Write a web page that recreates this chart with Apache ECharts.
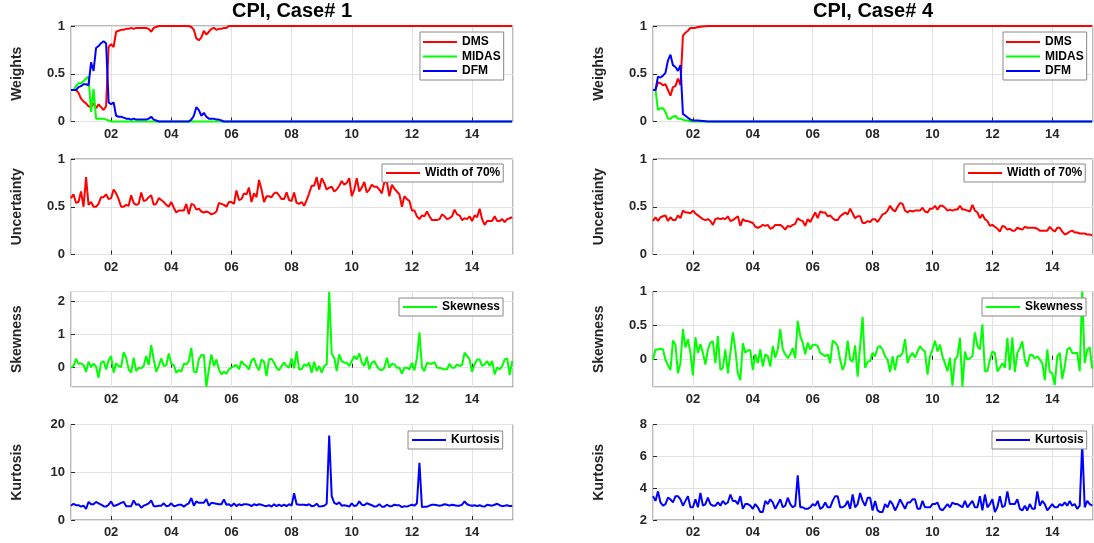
<!DOCTYPE html>
<html lang="en">
<head>
  <meta charset="UTF-8">
  <title>CPI, Case# 1 / Case# 4</title>
  <style>
    html, body { margin: 0; padding: 0; background: #fff; }
    #chart { width: 1094px; height: 543px; }
  </style>
</head>
<body>
  <div id="chart"></div>
  <script src="https://cdn.jsdelivr.net/npm/echarts@6/dist/echarts.min.js"></script>
  <script>
    // monthly data, first month Sep 2000 (index 0), last May 2015 (index 176)
    var startYear = 2000, startMonth = 8;

    // weights: [monthIndex, value]
    var dmsL = [[0,0.33],[1,0.33],[2,0.33],[3,0.30],[4,0.24],[5,0.21],[6,0.19],[7,0.16],[8,0.15],[9,0.19],[10,0.14],[11,0.18],[12,0.15],[13,0.12],[14,0.16],[15,0.78],[16,0.81],[17,0.78],[18,0.94],[19,0.95],[20,0.96],[21,0.96],[22,0.97],[23,0.97],[24,0.98],[25,0.97],[26,0.98],[27,0.98],[28,0.98],[29,0.98],[30,0.98],[31,0.97],[32,0.94],[33,0.98],[34,0.99],[35,1],[47,1],[48,0.99],[49,0.96],[50,0.87],[51,0.85],[52,0.88],[53,0.95],[54,0.91],[55,0.94],[56,0.97],[57,0.98],[58,0.96],[59,0.97],[60,0.97],[61,0.98],[62,0.98],[63,1],[176,1]];
    var midasL = [[0,0.33],[1,0.33],[2,0.37],[3,0.40],[4,0.40],[5,0.42],[6,0.45],[7,0.47],[8,0.10],[9,0.34],[10,0.03],[11,0.03],[12,0.03],[13,0.03],[14,0.02],[15,0.01],[16,0],[176,0]];
    var dfmL = [[0,0.33],[1,0.33],[2,0.33],[3,0.36],[4,0.37],[5,0.39],[6,0.39],[7,0.38],[8,0.62],[9,0.53],[10,0.77],[11,0.79],[12,0.82],[13,0.84],[14,0.82],[15,0.20],[16,0.18],[17,0.20],[18,0.06],[19,0.05],[20,0.05],[21,0.04],[22,0.03],[23,0.03],[24,0.02],[25,0.03],[26,0.02],[27,0.02],[28,0.02],[29,0.02],[30,0.02],[31,0.03],[32,0.05],[33,0.02],[34,0.01],[35,0],[47,0],[48,0.02],[49,0.06],[50,0.15],[51,0.12],[52,0.06],[53,0.09],[54,0.05],[55,0.03],[56,0.03],[57,0.03],[58,0.02],[59,0.02],[60,0.01],[61,0],[176,0]];

    var dmsR = [[0,0.33],[1,0.33],[2,0.41],[3,0.40],[4,0.38],[5,0.39],[6,0.33],[7,0.27],[8,0.36],[9,0.37],[10,0.45],[11,0.38],[12,0.90],[13,0.93],[14,0.95],[15,0.98],[16,0.98],[17,0.98],[18,0.99],[22,1],[176,1]];
    var midasR = [[0,0.33],[1,0.33],[2,0.12],[3,0.14],[4,0.14],[5,0.10],[6,0.03],[7,0.03],[8,0.05],[9,0.06],[10,0.03],[11,0.03],[12,0.02],[13,0.01],[14,0.01],[15,0],[176,0]];
    var dfmR = [[0,0.33],[1,0.33],[2,0.47],[3,0.46],[4,0.48],[5,0.51],[6,0.64],[7,0.70],[8,0.59],[9,0.57],[10,0.53],[11,0.59],[12,0.08],[13,0.06],[14,0.04],[15,0.02],[16,0.01],[17,0.01],[18,0.01],[22,0],[176,0]];

    // width of 70% interval, skewness, kurtosis (one value per month)
    var uncL = [
      0.59,0.63,0.54,0.55,0.66,0.50,0.81,0.52,0.55,0.50,0.50,0.53,
      0.60,0.60,0.63,0.58,0.59,0.68,0.64,0.58,0.50,0.50,0.52,0.51,
      0.62,0.54,0.52,0.53,0.65,0.56,0.57,0.60,0.62,0.52,0.53,0.59,
      0.57,0.55,0.52,0.50,0.55,0.49,0.44,0.46,0.46,0.46,0.53,0.42,
      0.53,0.52,0.47,0.48,0.45,0.44,0.45,0.44,0.42,0.43,0.45,0.54,
      0.53,0.52,0.50,0.55,0.55,0.53,0.67,0.57,0.58,0.64,0.63,0.70,
      0.55,0.64,0.60,0.78,0.68,0.55,0.61,0.61,0.60,0.64,0.65,0.62,
      0.58,0.58,0.65,0.57,0.56,0.65,0.54,0.53,0.55,0.51,0.57,0.64,
      0.72,0.72,0.81,0.68,0.80,0.75,0.68,0.70,0.71,0.66,0.68,0.72,
      0.77,0.73,0.75,0.80,0.61,0.68,0.80,0.66,0.70,0.76,0.65,0.68,
      0.73,0.71,0.71,0.68,0.64,0.76,0.76,0.61,0.73,0.69,0.66,0.63,
      0.50,0.61,0.58,0.56,0.46,0.46,0.40,0.37,0.41,0.40,0.45,0.40,
      0.36,0.36,0.36,0.37,0.42,0.40,0.37,0.38,0.40,0.47,0.42,0.41,
      0.36,0.38,0.37,0.40,0.35,0.41,0.39,0.48,0.37,0.31,0.35,0.35,
      0.35,0.40,0.35,0.35,0.37,0.34,0.37,0.38,0.39
    ];
    var skewL = [
      0.00,0.05,0.27,0.12,0.13,0.08,-0.12,0.18,0.02,0.12,0.03,-0.30,
      0.15,0.20,-0.05,0.22,0.35,-0.15,0.13,0.05,0.02,0.47,0.30,-0.05,
      -0.15,0.30,-0.10,0.00,-0.02,0.05,0.35,0.08,0.68,0.25,-0.12,0.05,
      0.28,0.05,0.07,0.43,0.12,0.08,-0.15,-0.07,-0.12,0.12,0.10,0.20,
      0.60,-0.12,-0.15,0.25,0.38,0.38,-0.58,-0.05,0.40,0.05,0.25,-0.05,
      -0.20,-0.12,-0.18,-0.05,0.00,0.05,0.08,-0.05,0.20,0.10,0.05,-0.05,
      0.22,0.28,0.05,-0.08,0.25,0.18,-0.25,0.25,0.27,0.15,0.00,-0.08,
      0.05,0.15,0.05,0.00,0.28,-0.02,0.50,-0.05,-0.05,0.10,0.05,0.15,
      -0.15,0.18,-0.10,0.05,-0.15,0.05,0.10,2.28,0.42,0.30,-0.10,0.40,
      0.20,0.15,0.15,0.05,0.20,0.35,0.25,0.43,0.15,0.05,0.33,-0.05,
      0.15,0.20,0.05,-0.05,-0.08,0.00,0.30,0.00,0.12,0.10,0.00,0.00,
      -0.18,0.00,0.00,-0.05,0.15,-0.08,0.30,1.06,0.00,-0.10,0.15,0.12,
      0.12,0.17,0.00,0.00,-0.03,-0.05,-0.05,0.12,0.00,0.00,0.10,0.05,
      0.08,0.45,0.35,0.25,-0.12,0.10,0.25,0.25,0.05,0.10,0.20,0.05,
      0.20,-0.20,0.00,-0.05,0.05,0.25,0.28,-0.22,0.20
    ];
    var kurtL = [
      3.0,3.4,3.1,3.1,2.8,3.0,2.3,3.8,3.3,3.3,3.8,3.5,
      3.2,2.9,2.8,3.2,3.9,2.9,3.1,3.3,3.6,3.8,2.9,2.9,
      2.9,4.1,3.2,3.3,2.6,3.0,3.2,3.5,4.1,2.9,2.9,3.0,
      3.0,3.5,2.9,3.0,3.5,2.9,3.0,3.2,3.2,2.8,3.2,3.5,
      4.6,3.0,3.9,3.6,3.6,3.6,4.4,3.0,3.6,3.5,3.4,3.3,
      3.3,4.3,3.2,3.3,2.9,3.5,2.9,3.3,3.1,3.3,3.3,3.2,
      2.9,3.3,3.1,3.3,3.2,3.0,2.9,3.1,2.8,3.3,2.9,3.2,
      2.9,3.2,2.9,3.3,3.0,5.6,3.3,3.2,3.2,3.2,3.1,3.3,
      2.9,3.0,3.4,2.8,2.9,3.0,3.4,17.7,5.0,3.6,3.3,3.7,
      3.0,3.1,3.0,2.8,3.5,2.9,3.1,3.9,3.2,3.1,3.5,3.3,
      3.1,2.8,2.9,3.3,2.8,2.8,3.2,2.9,2.9,3.2,3.1,3.1,
      2.7,2.9,2.8,3.0,3.2,3.0,3.5,12.0,2.7,2.8,2.8,3.0,
      3.2,3.2,3.1,3.0,3.1,3.3,3.2,3.0,3.2,3.1,3.0,3.0,
      3.2,3.9,3.3,3.1,3.0,3.1,2.9,3.1,2.9,2.8,3.2,3.1,
      3.0,3.2,3.4,3.1,2.9,3.0,3.1,2.9,3.0
    ];
    var uncR = [
      0.35,0.39,0.35,0.39,0.40,0.41,0.35,0.39,0.36,0.36,0.41,0.38,
      0.46,0.44,0.44,0.43,0.46,0.43,0.41,0.39,0.37,0.36,0.37,0.35,
      0.31,0.37,0.38,0.37,0.38,0.37,0.40,0.35,0.36,0.38,0.40,0.30,
      0.37,0.35,0.35,0.34,0.33,0.29,0.28,0.29,0.31,0.30,0.31,0.27,
      0.28,0.31,0.31,0.31,0.29,0.26,0.30,0.29,0.31,0.32,0.38,0.36,
      0.35,0.30,0.37,0.34,0.39,0.44,0.38,0.45,0.44,0.44,0.40,0.41,
      0.38,0.36,0.36,0.40,0.42,0.44,0.42,0.48,0.43,0.38,0.40,0.40,
      0.33,0.33,0.35,0.34,0.37,0.37,0.34,0.38,0.42,0.43,0.46,0.51,
      0.47,0.45,0.50,0.54,0.53,0.46,0.44,0.46,0.45,0.46,0.46,0.46,
      0.49,0.45,0.44,0.48,0.48,0.51,0.47,0.51,0.51,0.49,0.46,0.47,
      0.46,0.47,0.47,0.51,0.47,0.47,0.46,0.45,0.52,0.46,0.44,0.38,
      0.42,0.37,0.35,0.30,0.31,0.29,0.27,0.24,0.30,0.29,0.26,0.27,
      0.25,0.25,0.28,0.27,0.26,0.29,0.28,0.28,0.28,0.28,0.27,0.25,
      0.25,0.25,0.25,0.29,0.26,0.24,0.28,0.28,0.24,0.21,0.22,0.24,
      0.25,0.23,0.23,0.22,0.22,0.22,0.21,0.21,0.20
    ];
    var skewR = [
      0.00,0.15,0.15,0.16,0.15,0.00,-0.08,-0.15,0.28,0.22,-0.20,-0.05,
      0.45,0.18,0.30,0.10,-0.23,0.33,0.10,0.23,0.10,-0.07,0.15,0.25,
      0.27,-0.05,0.35,-0.15,-0.12,0.15,-0.20,0.10,0.40,0.15,-0.20,-0.30,
      0.24,0.10,0.14,0.14,-0.15,0.08,-0.05,0.15,-0.10,0.08,0.05,-0.10,
      0.20,0.03,0.15,0.45,0.15,0.08,0.02,0.08,0.17,0.02,0.57,0.35,
      0.25,0.08,0.25,0.15,0.22,0.22,0.20,0.10,0.08,0.05,0.08,-0.05,
      0.28,0.25,0.20,0.00,-0.15,-0.05,0.28,0.00,-0.03,0.21,-0.25,0.20,
      0.63,-0.12,-0.03,-0.02,0.10,0.05,0.18,0.20,0.15,0.05,0.00,-0.18,
      0.05,-0.15,0.05,0.05,0.10,0.30,-0.05,0.05,0.10,0.03,0.12,0.20,
      0.15,0.12,-0.22,0.05,0.15,0.28,0.12,0.22,0.05,-0.05,-0.17,0.03,
      -0.38,0.00,0.05,0.32,-0.40,0.12,0.00,0.02,0.05,0.40,0.20,0.15,
      0.52,-0.17,-0.17,0.00,0.12,0.10,-0.17,-0.12,-0.05,-0.12,0.32,-0.15,
      0.33,-0.18,0.10,0.17,0.27,0.00,-0.10,0.07,0.07,0.02,0.05,0.00,
      -0.05,-0.30,0.15,-0.18,-0.20,-0.37,0.05,0.10,-0.28,-0.10,0.15,0.18,
      0.10,0.10,0.10,-0.17,1.00,-0.05,0.15,0.18,-0.13
    ];
    var kurtR = [
      3.5,3.2,3.8,3.1,2.9,3.0,3.4,3.3,3.1,3.5,3.5,3.3,
      2.9,3.2,3.5,2.8,2.8,3.3,2.8,3.7,2.9,3.0,3.4,3.0,
      2.9,2.9,3.1,2.9,3.2,3.0,3.1,3.6,3.2,3.2,3.0,3.5,
      2.7,3.0,3.0,2.9,2.7,3.0,2.8,2.5,2.5,3.2,3.0,3.3,
      3.1,2.7,3.0,3.3,2.8,2.9,3.4,3.0,2.8,2.9,4.8,2.8,
      2.8,2.7,2.7,2.8,3.0,2.9,3.2,2.7,2.8,3.1,2.8,2.8,
      3.2,3.5,3.5,2.8,2.8,2.9,3.2,2.7,3.6,2.8,3.0,3.7,
      3.2,2.9,3.4,3.4,2.6,3.2,2.6,2.5,2.5,3.0,2.8,3.2,
      3.0,2.6,2.9,3.3,3.0,2.7,3.1,3.1,3.3,3.3,2.7,2.7,
      3.2,2.8,2.8,2.8,3.0,3.0,3.1,2.7,2.6,2.8,3.0,2.8,
      3.1,3.0,3.0,2.9,2.8,3.2,2.8,3.0,3.2,2.8,2.8,3.5,
      2.6,3.6,2.8,3.0,3.3,2.5,2.8,3.5,2.8,2.9,3.8,3.0,
      3.0,3.0,3.3,2.7,2.6,2.9,2.6,3.0,2.7,2.7,3.8,2.9,
      3.2,3.0,2.6,2.8,3.0,2.8,2.8,3.0,2.9,3.1,2.9,3.2,
      2.9,3.0,2.7,2.9,6.8,2.8,3.2,3.0,2.9
    ];

    var titles = ['CPI, Case# 1', 'CPI, Case# 4'];
    var rowNames = ['Weights', 'Uncertainty', 'Skewness', 'Kurtosis'];

    var RED = '#ff0000', GREEN = '#00ff00', BLUE = '#0000ff';
    var FONT = '"Liberation Sans", Arial, sans-serif';
    var INK = '#262626';

    var colLeft = [71, 653];
    var colWidth = [442, 440];
    var rowTop = [26, 159, 291.5, 424.5];
    var rowHeight = 95.5;

    function toYear(m) {
      return startYear + (startMonth + m) / 12;
    }

    // y axis settings per [row][col]
    var yRanges = [
      [{ min: 0, max: 1, step: 0.5 }, { min: 0, max: 1, step: 0.5 }],
      [{ min: 0, max: 1, step: 0.5 }, { min: 0, max: 1, step: 0.5 }],
      [{ min: -0.58, max: 2.29, step: 1 }, { min: -0.4, max: 1, step: 0.5 }],
      [{ min: 0, max: 20, step: 10 }, { min: 2, max: 8, step: 2 }]
    ];

    var grids = [], xAxes = [], yAxes = [], series = [], legends = [], graphics = [];

    function addLine(gi, name, color, data, paired) {
      series.push({
        type: 'line',
        name: name,
        xAxisIndex: gi,
        yAxisIndex: gi,
        data: paired ? data.map(function (p) { return [toYear(p[0]), p[1]]; })
                     : data.map(function (v, i) { return [toYear(i), v]; }),
        showSymbol: false,
        symbol: 'none',
        clip: false,
        lineStyle: { color: color, width: 2 },
        itemStyle: { color: color },
        animation: false
      });
    }

    for (var c = 0; c < 2; c++) {
      graphics.push({
        type: 'text',
        x: colLeft[c] + colWidth[c] / 2,
        y: 1,
        style: {
          text: titles[c],
          fill: '#000',
          font: 'bold 20px ' + FONT,
          textAlign: 'center',
          textVerticalAlign: 'top'
        }
      });
      for (var r = 0; r < 4; r++) {
        var gi = grids.length;
        var yr = yRanges[r][c];
        grids.push({
          left: colLeft[c],
          top: rowTop[r],
          width: colWidth[c],
          height: rowHeight,
          show: true,
          borderColor: '#777',
          borderWidth: 1,
          backgroundColor: '#fff'
        });
        xAxes.push({
          type: 'value',
          gridIndex: gi,
          min: 2000.6667,
          max: 2015.36,
          minInterval: 2,
          maxInterval: 2,
          axisLine: { show: false },
          axisTick: { show: true, inside: true, length: 4, lineStyle: { color: INK } },
          splitLine: { show: true, lineStyle: { color: '#e2e2e2', width: 1 } },
          axisLabel: {
            showMinLabel: false,
            showMaxLabel: false,
            margin: 6,
            color: INK,
            fontFamily: FONT,
            fontWeight: 'bold',
            fontSize: 13,
            formatter: function (v) {
              var y = Math.round(v) % 100;
              return (y < 10 ? '0' : '') + y;
            }
          }
        });
        var minIsTick = Math.abs(yr.min / yr.step - Math.round(yr.min / yr.step)) < 1e-6;
        var maxIsTick = Math.abs(yr.max / yr.step - Math.round(yr.max / yr.step)) < 1e-6;
        yAxes.push({
          type: 'value',
          gridIndex: gi,
          min: yr.min,
          max: yr.max,
          minInterval: yr.step,
          maxInterval: yr.step,
          name: rowNames[r],
          nameLocation: 'middle',
          nameRotate: 90,
          nameGap: 47,
          nameTextStyle: { color: INK, fontFamily: FONT, fontWeight: 'bold', fontSize: 14 },
          axisLine: { show: false },
          axisTick: { show: true, inside: true, length: 4, lineStyle: { color: INK } },
          splitLine: { show: true, lineStyle: { color: '#e2e2e2', width: 1 } },
          axisLabel: {
            showMinLabel: minIsTick,
            showMaxLabel: maxIsTick,
            margin: 6,
            color: INK,
            fontFamily: FONT,
            fontWeight: 'bold',
            fontSize: 13
          }
        });
      }
    }

    // series, grid index = c * 4 + r
    addLine(0, 'DMS', RED, dmsL, true);
    addLine(0, 'MIDAS', GREEN, midasL, true);
    addLine(0, 'DFM', BLUE, dfmL, true);
    addLine(1, 'Width of 70%', RED, uncL);
    addLine(2, 'Skewness', GREEN, skewL);
    addLine(3, 'Kurtosis', BLUE, kurtL);
    addLine(4, 'DMS', RED, dmsR, true);
    addLine(4, 'MIDAS', GREEN, midasR, true);
    addLine(4, 'DFM', BLUE, dfmR, true);
    addLine(5, 'Width of 70%', RED, uncR);
    addLine(6, 'Skewness', GREEN, skewR);
    addLine(7, 'Kurtosis', BLUE, kurtR);

    function legendBox(left, top, names) {
      return {
        left: left,
        top: top,
        orient: 'vertical',
        data: names,
        selectedMode: false,
        icon: 'rect',
        itemWidth: 34,
        itemHeight: 2,
        itemGap: 0.5,
        padding: names.length > 1 ? [3, 3, 2, 3] : [2, 3, 2, 4],
        backgroundColor: '#fff',
        borderColor: '#888',
        borderWidth: 1,
        borderRadius: 0,
        textStyle: { color: '#000', fontFamily: FONT, fontWeight: 'bold', fontSize: 12, lineHeight: 14 }
      };
    }
    legends.push(legendBox(420, 32, ['DMS', 'MIDAS', 'DFM']));
    legends.push(legendBox(382, 164, ['Width of 70%']));
    legends.push(legendBox(399, 298, ['Skewness']));
    legends.push(legendBox(408, 431, ['Kurtosis']));
    legends.push(legendBox(1003, 32, ['DMS', 'MIDAS', 'DFM']));
    legends.push(legendBox(964, 164, ['Width of 70%']));
    legends.push(legendBox(982, 298, ['Skewness']));
    legends.push(legendBox(992, 431, ['Kurtosis']));

    var chart = echarts.init(document.getElementById('chart'));
    chart.setOption({
      animation: false,
      backgroundColor: '#fff',
      grid: grids,
      xAxis: xAxes,
      yAxis: yAxes,
      legend: legends,
      graphic: graphics,
      series: series
    });
  </script>
</body>
</html>
